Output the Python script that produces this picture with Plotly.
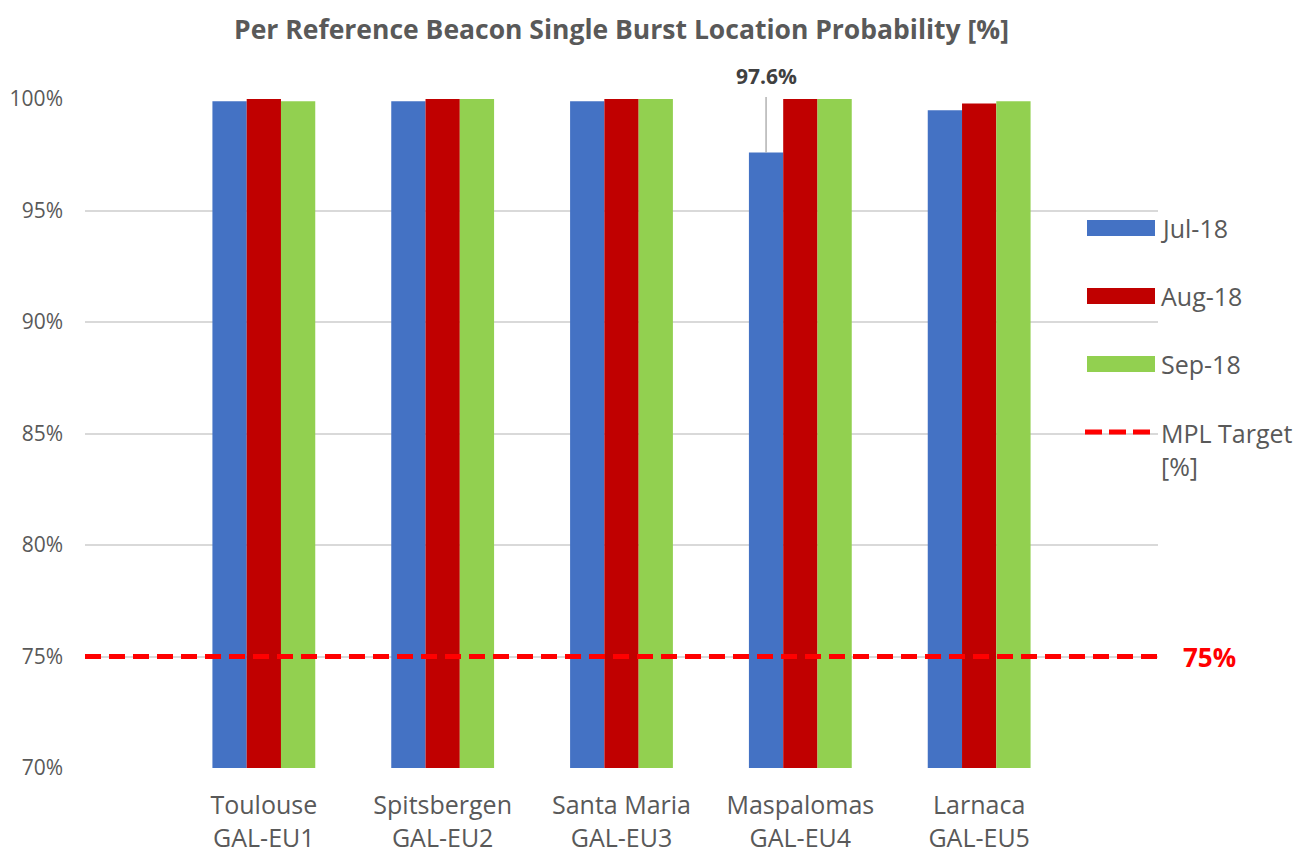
import plotly.graph_objects as go

categories = ["Toulouse<br>GAL-EU1", "Spitsbergen<br>GAL-EU2", "Santa Maria<br>GAL-EU3",
              "Maspalomas<br>GAL-EU4", "Larnaca<br>GAL-EU5"]
series_names = ["Jul-18", "Aug-18", "Sep-18"]
jul_18 = [99.9, 99.9, 99.9, 97.6, 99.5]
aug_18 = [100.0, 100.0, 100.0, 100.0, 99.8]
sep_18 = [99.9, 100.0, 100.0, 100.0, 99.9]
mpl_target = 75
y_ticks = [70, 75, 80, 85, 90, 95, 100]

colors = ["#4472C4", "#C00000", "#92D050"]
target_color = "#FF0000"
FONT = "'Open Sans', sans-serif"
GRAY = "#595959"

OFF = 8  # page body margin
W, H = 1309, 855
# desired plot area on screen: x 85..1158, y 99..768
L, T = 85 - OFF, 99 - OFF
R = W - (1158 - OFF)
B = H - (768 - OFF)
PW, PH = W - L - R, H - T - B

def px(xs):
    return (xs - OFF - L) / PW

def py(ys):
    return (T + PH - (ys - OFF)) / PH

xpos = list(range(1, len(categories) + 1))
bargap = 0.425

fig = go.Figure()
for name, vals, col in zip(series_names, [jul_18, aug_18, sep_18], colors):
    fig.add_trace(go.Bar(x=xpos, y=vals, name=name, marker=dict(color=col, line=dict(width=0)),
                         showlegend=False))

x_range = [0, len(categories) + 1]
fig.add_trace(go.Scatter(x=x_range, y=[mpl_target, mpl_target], mode="lines",
                         line=dict(color=target_color, width=5, dash="16px,8px"),
                         name="MPL Target [%]", showlegend=False, cliponaxis=False))

# data label for the Maspalomas July bar
bar_w = (1 - bargap) / 3
idx = 3
fig.add_annotation(x=xpos[idx] - bar_w, y=jul_18[idx], xref="x", yref="y",
                   text=f"<b>{jul_18[idx]:.1f}%</b>", showarrow=True, arrowhead=0,
                   arrowwidth=1.3, arrowcolor="#A6A6A6", ax=0, ay=-77, startstandoff=6,
                   font=dict(family=FONT, size=21, color="#404040"))

# target label
fig.add_annotation(x=px(1181), y=mpl_target, xref="paper", yref="y", xanchor="left",
                   yanchor="middle", text=f"<b>{mpl_target}%</b>", showarrow=False,
                   font=dict(family=FONT, size=26, color=target_color))

# manual legend
legend_rows = [(228, "Jul-18", colors[0]), (296, "Aug-18", colors[1]), (364, "Sep-18", colors[2])]
for yc, label, col in legend_rows:
    fig.add_shape(type="rect", xref="paper", yref="paper", x0=px(1087), x1=px(1155),
                  y0=py(yc - 8), y1=py(yc + 8), fillcolor=col, line=dict(width=0), layer="above")
    fig.add_annotation(x=px(1159), y=py(yc), xref="paper", yref="paper", xanchor="left",
                       yanchor="middle", text=label, showarrow=False,
                       font=dict(family=FONT, size=25, color=GRAY))
fig.add_shape(type="line", xref="paper", yref="paper", x0=px(1085), x1=px(1150),
              y0=py(432), y1=py(432), line=dict(color=target_color, width=5, dash="17px,7px"),
              layer="above")
fig.add_annotation(x=px(1159), y=py(414), xref="paper", yref="paper", xanchor="left",
                   yanchor="top", align="left", text="MPL Target<br>[%]", showarrow=False,
                   font=dict(family=FONT, size=25, color=GRAY))

fig.update_layout(
    width=W, height=H,
    margin=dict(l=L, r=R, t=T, b=B),
    paper_bgcolor="white", plot_bgcolor="white",
    barmode="group", bargap=bargap, bargroupgap=0,
    showlegend=False,
    title=dict(text="<b>Per Reference Beacon Single Burst Location Probability [%]</b>",
               x=0.5, xref="paper", xanchor="center", y=1 - (30 - OFF) / H, yanchor="middle",
               font=dict(family=FONT, size=26.5, color=GRAY)),
    font=dict(family=FONT, color=GRAY),
)
fig.update_xaxes(range=x_range, tickmode="array", tickvals=xpos, ticktext=categories,
                 showgrid=False, showline=False, zeroline=False, ticks="", automargin=False,
                 tickfont=dict(family=FONT, size=25, color=GRAY), ticklabelstandoff=20)
fig.update_yaxes(range=[y_ticks[0], y_ticks[-1]], tickmode="array", tickvals=y_ticks,
                 ticktext=[f"{v}%" for v in y_ticks], showgrid=True, gridcolor="#D9D9D9",
                 gridwidth=1.5, zeroline=False, showline=False, ticks="", automargin=False,
                 tickfont=dict(family=FONT, size=21, color=GRAY), ticklabelstandoff=21)

fig.write_html("out.html")
